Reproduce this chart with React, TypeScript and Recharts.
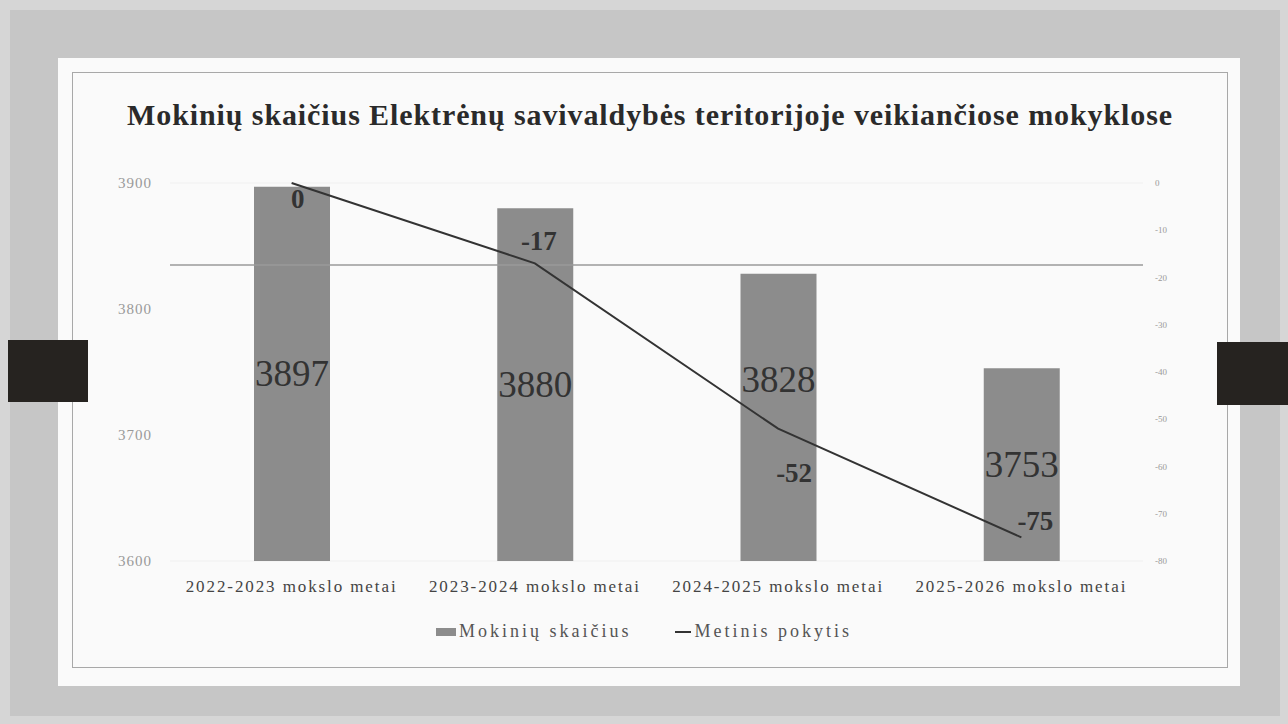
import {
  ComposedChart,
  Bar,
  Line,
  XAxis,
  YAxis,
  CartesianGrid,
  ReferenceLine,
  LabelList,
} from "recharts";

const years = [
  "2022-2023 mokslo metai",
  "2023-2024 mokslo metai",
  "2024-2025 mokslo metai",
  "2025-2026 mokslo metai",
];
const students = [3897, 3880, 3828, 3753];
const yearlyChange = [0, -17, -52, -75];
const leftTicks = [3600, 3700, 3800, 3900];
const rightTicks = [0, -10, -20, -30, -40, -50, -60, -70, -80];

// label nudges so they don't overlap (like the original)
const barLabelShift = [0, 0, -38, 0];
const lineLabelShift = [
  { dx: 6, dy: 16 },
  { dx: 4, dy: -22 },
  { dx: 16, dy: 44 },
  { dx: 14, dy: -16 },
];

const data = years.map((y, i) => ({
  year: y,
  students: students[i],
  change: yearlyChange[i],
}));

const SERIF = '"Liberation Serif", "DejaVu Serif", serif';

const BarValue = (props: any) => {
  const { x, y, width, height, value, index } = props;
  return (
    <text
      x={x + width / 2}
      y={y + height / 2 + barLabelShift[index]}
      textAnchor="middle"
      dominantBaseline="central"
      fontFamily={SERIF}
      fontSize={37}
      fill="#333"
    >
      {value}
    </text>
  );
};

const LineValue = (props: any) => {
  const { x, y, value, index } = props;
  const s = lineLabelShift[index];
  return (
    <text
      x={x + s.dx}
      y={y + s.dy}
      textAnchor="middle"
      dominantBaseline="central"
      fontFamily={SERIF}
      fontSize={27}
      fontWeight="bold"
      fill="#333"
    >
      {value}
    </text>
  );
};

export default function App() {
  return (
    <div
      style={{
        position: "absolute",
        left: 0,
        top: 0,
        width: 1288,
        height: 724,
        background: "#d6d6d6",
        overflow: "hidden",
        fontFamily: SERIF,
      }}
    >
      <div
        style={{
          position: "absolute",
          left: 10,
          top: 10,
          width: 1270,
          height: 706,
          background: "#c6c6c6",
        }}
      />
      <div
        style={{
          position: "absolute",
          left: 58,
          top: 58,
          width: 1182,
          height: 628,
          background: "#fafafa",
        }}
      />
      <div
        style={{
          position: "absolute",
          left: 72,
          top: 72,
          width: 1156,
          height: 596,
          border: "1px solid #a8a8a8",
          boxSizing: "border-box",
        }}
      />
      <div
        style={{
          position: "absolute",
          left: 72,
          width: 1156,
          top: 98,
          textAlign: "center",
          fontSize: 30,
          letterSpacing: 0.9,
          fontWeight: "bold",
          color: "#2a2a2a",
        }}
      >
        Mokinių skaičius Elektrėnų savivaldybės teritorijoje veikiančiose mokyklose
      </div>
      <div style={{ position: "absolute", left: 0, top: 0 }}>
        <ComposedChart
          width={1288}
          height={724}
          data={data}
          margin={{ top: 183, right: 85, bottom: 133, left: 110 }}
          barSize={76}
        >
          <CartesianGrid vertical={false} stroke="#f0f0f0" />
          <XAxis
            dataKey="year"
            axisLine={false}
            tickLine={false}
            height={30}
            tickMargin={13}
            tick={{ fontFamily: SERIF, fontSize: 17, fill: "#444", letterSpacing: 1.9 }}
          />
          <YAxis
            yAxisId="left"
            domain={[3600, 3900]}
            ticks={leftTicks}
            width={60}
            axisLine={false}
            tickLine={false}
            tickMargin={12}
            tick={{ fontFamily: SERIF, fontSize: 15, fill: "#999", letterSpacing: 1 }}
          />
          <YAxis
            yAxisId="right"
            orientation="right"
            domain={[-80, 0]}
            ticks={rightTicks}
            width={60}
            axisLine={false}
            tickLine={false}
            tickMargin={6}
            tick={{ fontFamily: SERIF, fontSize: 9, fill: "#999" }}
          />
          <ReferenceLine yAxisId="left" y={3835} stroke="#9a9a9a" strokeWidth={1.5} />
          <Bar
            yAxisId="left"
            dataKey="students"
            fill="#8c8c8c"
            isAnimationActive={false}
          >
            <LabelList dataKey="students" content={BarValue} />
          </Bar>
          <Line
            yAxisId="right"
            dataKey="change"
            type="linear"
            stroke="#333"
            strokeWidth={2}
            dot={false}
            isAnimationActive={false}
          >
            <LabelList dataKey="change" content={LineValue} />
          </Line>
        </ComposedChart>
      </div>
      <div
        style={{
          position: "absolute",
          left: 0,
          width: 1288,
          top: 621,
          display: "flex",
          justifyContent: "center",
          alignItems: "center",
          fontSize: 18,
          letterSpacing: 3,
          color: "#555",
        }}
      >
        <span style={{ display: "inline-block", width: 20, height: 8, background: "#8c8c8c", marginRight: 3 }} />
        <span style={{ marginRight: 44 }}>Mokinių skaičius</span>
        <span style={{ display: "inline-block", width: 16, height: 2, background: "#333", marginRight: 3 }} />
        <span>Metinis pokytis</span>
      </div>
      <div style={{ position: "absolute", left: 8, top: 340, width: 80, height: 62, background: "#262320" }} />
      <div style={{ position: "absolute", left: 1217, top: 342, width: 71, height: 63, background: "#262320" }} />
    </div>
  );
}
